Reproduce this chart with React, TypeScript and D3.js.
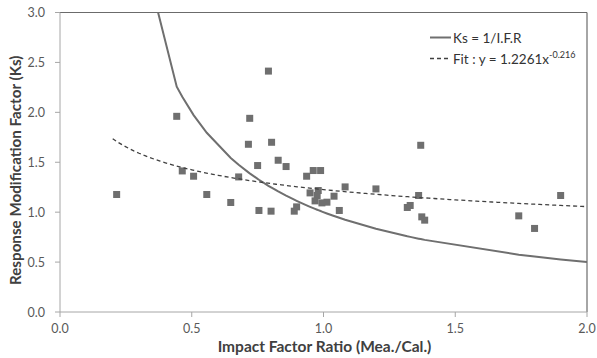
import React from "react";
import * as d3 from "d3";

// Measured impact factor ratio (Mea./Cal.) and response modification factor Ks
const ifrValues = [
  0.215, 0.443, 0.464, 0.507, 0.557, 0.648, 0.678, 0.715, 0.72, 0.75, 0.755,
  0.791, 0.803, 0.801, 0.828, 0.858, 0.889, 0.898, 0.936, 0.961, 0.989, 0.949,
  0.98, 0.976, 0.968, 0.994, 1.013, 1.04, 1.06, 1.082, 1.199, 1.369, 1.361,
  1.318, 1.329, 1.373, 1.384, 1.741, 1.801, 1.9,
];
const ksValues = [
  1.177, 1.96, 1.413, 1.36, 1.177, 1.097, 1.353, 1.68, 1.94, 1.467, 1.017,
  2.413, 1.7, 1.01, 1.52, 1.457, 1.01, 1.053, 1.36, 1.417, 1.417, 1.193,
  1.217, 1.167, 1.113, 1.093, 1.1, 1.16, 1.017, 1.253, 1.233, 1.67, 1.167,
  1.047, 1.067, 0.953, 0.92, 0.963, 0.837, 1.167,
];

// Power-law fit y = a * x^b
const fitA = 1.2261;
const fitB = -0.216;
const fitRange = [0.2, 2.0];

const xTicks = [0, 0.5, 1.0, 1.5, 2.0];
const yTicks = [0, 0.5, 1.0, 1.5, 2.0, 2.5, 3.0];

const W = 597;
const H = 358;
const margin = { left: 60, right: 10, top: 12.5, bottom: 46 };

export default function App() {
  const x = d3
    .scaleLinear()
    .domain([0, 2])
    .range([margin.left, W - margin.right]);
  const y = d3
    .scaleLinear()
    .domain([0, 3])
    .range([H - margin.bottom, margin.top]);

  // Ks = 1 / IFR evaluated at each specimen's ratio, extended to the axis end
  const ksCurveX = Array.from(new Set([...ifrValues, 2.0])).sort((a, b) => a - b);
  const ksLine = d3
    .line<number>()
    .x((d) => x(d))
    .y((d) => y(1 / d));

  const fitX = d3.range(fitRange[0], fitRange[1] + 1e-9, 0.02);
  const fitLine = d3
    .line<number>()
    .x((d) => x(d))
    .y((d) => y(fitA * Math.pow(d, fitB)));

  const x0 = x(0);
  const x1 = x(2);
  const y0 = y(0);
  const y1 = y(3);
  const font = "Lato, 'Open Sans', sans-serif";
  const sq = 7;

  return (
    <svg
      width={W}
      height={H}
      style={{ position: "absolute", left: 0, top: 0, background: "#fff" }}
      fontFamily={font}
    >
      <defs>
        <clipPath id="plotClip">
          <rect x={x0} y={y1} width={x1 - x0} height={y0 - y1} />
        </clipPath>
      </defs>

      {/* plot frame: top and right edges */}
      <line x1={x0} x2={x1} y1={y1} y2={y1} stroke="#6b6b6b" strokeWidth={1.2} />
      <line x1={x1} x2={x1} y1={y1} y2={y0} stroke="#6b6b6b" strokeWidth={1.2} />

      {/* axes */}
      <line x1={x0} x2={x0} y1={y1} y2={y0} stroke="#a6a6a6" strokeWidth={1} />
      <line x1={x0} x2={x1} y1={y0} y2={y0} stroke="#a6a6a6" strokeWidth={1} />

      {yTicks.map((t) => (
        <g key={"y" + t}>
          <line x1={x0 - 5} x2={x0} y1={y(t)} y2={y(t)} stroke="#a6a6a6" />
          <text
            x={x0 - 15}
            y={y(t)}
            textAnchor="end"
            dominantBaseline="central"
            fontSize={12.5}
            fill="#595959"
          >
            {t.toFixed(1)}
          </text>
        </g>
      ))}
      {xTicks.map((t) => (
        <g key={"x" + t}>
          <line x1={x(t)} x2={x(t)} y1={y0} y2={y0 + 5} stroke="#a6a6a6" />
          <text
            x={x(t)}
            y={y0 + 16}
            textAnchor="middle"
            dominantBaseline="central"
            fontSize={12.5}
            fill="#595959"
          >
            {t.toFixed(1)}
          </text>
        </g>
      ))}

      {/* axis titles */}
      <text
        x={(x0 + x1) / 2 + 1}
        y={346}
        textAnchor="middle"
        dominantBaseline="central"
        fontSize={15.5}
        fontWeight="bold"
        fill="#404040"
      >
        Impact Factor Ratio (Mea./Cal.)
      </text>
      <text
        transform={`translate(15, ${(y0 + y1) / 2 + 8}) rotate(-90)`}
        textAnchor="middle"
        dominantBaseline="central"
        fontSize={15.2}
        fontWeight="bold"
        fill="#404040"
      >
        Response Modification Factor (Ks)
      </text>

      <g clipPath="url(#plotClip)">
        {/* specimen points */}
        {ifrValues.map((v, i) => (
          <rect
            key={i}
            x={x(v) - sq / 2}
            y={y(ksValues[i]) - sq / 2}
            width={sq}
            height={sq}
            fill="#6f6f6f"
          />
        ))}
        <path
          d={ksLine(ksCurveX) || ""}
          fill="none"
          stroke="#6f6f6f"
          strokeWidth={2}
        />
        <path
          d={fitLine(fitX) || ""}
          fill="none"
          stroke="#404040"
          strokeWidth={1.3}
          strokeDasharray="4,3"
        />
      </g>

      {/* legend */}
      <g fontSize={13.5} fill="#333">
        <line x1={430} x2={451} y1={37.5} y2={37.5} stroke="#6f6f6f" strokeWidth={2} />
        <text x={453} y={38} dominantBaseline="central">
          Ks = 1/I.F.R
        </text>
        <line
          x1={430}
          x2={451}
          y1={58.5}
          y2={58.5}
          stroke="#404040"
          strokeWidth={1.3}
          strokeDasharray="4,3"
        />
        <text x={453} y={59} dominantBaseline="central">
          Fit : y = 1.2261x
          <tspan fontSize={9} dy={-5}>
            -0.216
          </tspan>
        </text>
      </g>
    </svg>
  );
}
